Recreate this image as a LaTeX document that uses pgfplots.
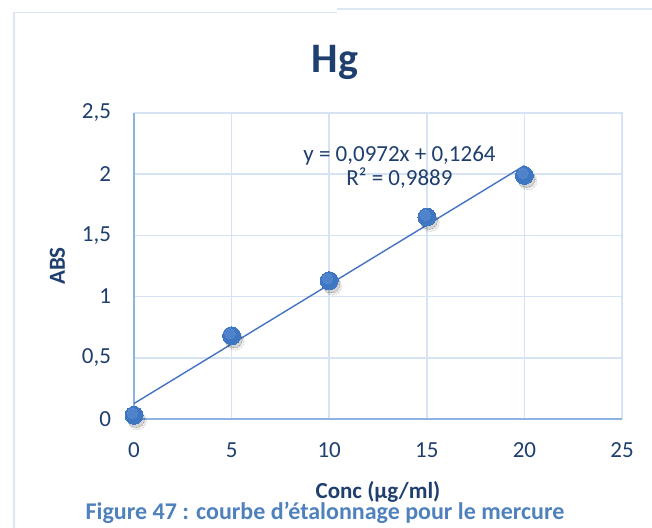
\documentclass[border=0pt]{standalone}
\usepackage{fontspec}
\setmainfont{Carlito}
\usepackage{pgfplots}
\pgfplotsset{compat=1.18}

\definecolor{txtblue}{HTML}{1F3F6E}
\definecolor{capblue}{HTML}{4F81BD}
\definecolor{gridblue}{HTML}{D6E3F4}
\definecolor{axisblue}{HTML}{8DB3E2}
\definecolor{markblue}{HTML}{3F76C2}
\definecolor{marklight}{HTML}{6A9BDB}
\definecolor{lineblue}{HTML}{4472C4}
\definecolor{framec}{HTML}{DDE7F3}

\begin{document}
\begin{tikzpicture}[x=0.5pt,y=0.5pt]
\useasboundingbox (0,0) rectangle (652,528);
% outer chart frame
\draw[framec, line width=0.6pt] (14,0) -- (14,515.5) -- (337,515.5);
\draw[framec, line width=0.6pt] (337,519) -- (652,519);
% title
\node[font=\bfseries\fontsize{21}{24}\selectfont, text=txtblue] at (335,466) {Hg};
\begin{axis}[
  at={(67pt,54.5pt)}, anchor=south west,
  scale only axis, width=244pt, height=153pt,
  xmin=0, xmax=25, ymin=0, ymax=2.5,
  xtick={0,5,...,25}, ytick={0,0.5,...,2.5},
  /pgf/number format/.cd, use comma, fixed, assume math mode=true,
  /pgfplots/.cd,
  tick label style={font=\fontsize{11.5}{13}\selectfont, text=txtblue},
  xticklabel style={yshift=-8.5pt},
  yticklabel style={xshift=-8pt},
  major tick length=0pt,
  grid=major, major grid style={gridblue, line width=0.8pt},
  axis line style={draw=none},
  axis x line*=bottom, axis y line*=left,
  xlabel={\bfseries Conc (µg/ml)},
  ylabel={\bfseries ABS},
  label style={font=\fontsize{11.5}{13}\selectfont, text=txtblue},
  xlabel style={yshift=-5pt},
  ylabel style={yshift=1.5pt},
  clip=false,
]
% outer grid border (top and right) and the two axis lines
\draw[gridblue, line width=0.8pt] (axis cs:0,2.5) -- (axis cs:25,2.5) -- (axis cs:25,0);
\draw[axisblue, line width=0.9pt] (axis cs:0,2.5) -- (axis cs:0,0) -- (axis cs:25,0);
% linear trend line y = 0.0972x + 0.1264
\addplot[lineblue, line width=0.7pt, no marks] coordinates {(0,0.1264) (20,2.0704)};
% soft marker shadows
\addplot[only marks, mark=*, mark size=4.5pt, color=black, opacity=0.06,
  mark options={line width=0pt, xshift=1.7pt, yshift=-2.7pt}]
  coordinates {(0,0.03) (5,0.68) (10,1.13) (15,1.65) (20,1.99)};
\addplot[only marks, mark=*, mark size=4.2pt, color=black, opacity=0.12,
  mark options={line width=0pt, xshift=1.1pt, yshift=-1.9pt}]
  coordinates {(0,0.03) (5,0.68) (10,1.13) (15,1.65) (20,1.99)};
% measured points
\addplot[only marks, mark=*, mark size=4.5pt, color=markblue,
  mark options={line width=0pt}]
  coordinates {(0,0.03) (5,0.68) (10,1.13) (15,1.65) (20,1.99)};
% highlight on the markers
\addplot[only marks, mark=*, mark size=2.6pt, color=marklight, opacity=0.35,
  mark options={line width=0pt, xshift=-0.8pt, yshift=1pt}]
  coordinates {(0,0.03) (5,0.68) (10,1.13) (15,1.65) (20,1.99)};
\node[font=\fontsize{11.5}{13}\selectfont, text=txtblue, align=center] at (axis cs:13.6,2.06)
  {y = 0,0972x + 0,1264\\[-1pt]R² = 0,9889};
\end{axis}
% caption
\node[font=\bfseries\fontsize{12}{14}\selectfont, text=capblue] at (325,15) {Figure 47 : courbe d’étalonnage pour le mercure};
\end{tikzpicture}
\end{document}
